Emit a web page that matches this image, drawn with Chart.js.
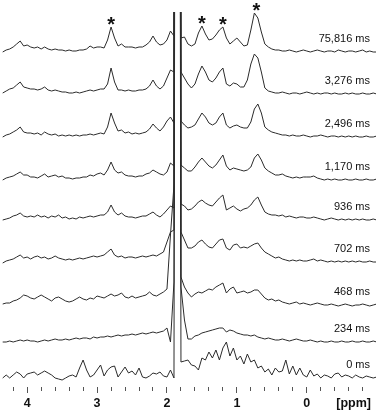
<!DOCTYPE html>
<html>
<head>
<meta charset="utf-8">
<script src="https://cdn.jsdelivr.net/npm/chart.js@4/dist/chart.umd.min.js"></script>
<style>
  html, body { margin: 0; padding: 0; background: #fff; }
  #wrap { width: 379px; height: 413px; position: relative; }
</style>
</head>
<body>
<div id="wrap"><canvas id="nmrChart"></canvas></div>
<script>
// chemical shift grid (ppm), shared by every spectrum
const ppm = [4.35, 4.3, 4.25, 4.2, 4.15, 4.1, 4.05, 4, 3.95, 3.9,
  3.85, 3.8, 3.75, 3.7, 3.65, 3.6, 3.55, 3.5, 3.45, 3.4,
  3.35, 3.3, 3.25, 3.2, 3.15, 3.1, 3.05, 3, 2.95, 2.9,
  2.85, 2.8, 2.75, 2.7, 2.65, 2.6, 2.55, 2.5, 2.45, 2.4,
  2.35, 2.3, 2.25, 2.2, 2.15, 2.1, 2.05, 2, 1.95, 1.9,
  1.85, 1.8, 1.75, 1.7, 1.65, 1.6, 1.55, 1.5, 1.45, 1.4,
  1.35, 1.3, 1.25, 1.2, 1.15, 1.1, 1.05, 1, 0.95, 0.9,
  0.85, 0.8, 0.75, 0.7, 0.65, 0.6, 0.55, 0.5, 0.45, 0.4,
  0.35, 0.3, 0.25, 0.2, 0.15, 0.1, 0.05, 0, -0.05, -0.1,
  -0.15, -0.2, -0.25, -0.3, -0.35, -0.4, -0.45, -0.5, -0.55, -0.6,
  -0.65, -0.7, -0.75, -0.8, -0.85, -0.9, -0.95, -1];

// intensities of each spectrum (arbitrary units)
const trace75816 = [0, 2, 3, 5, 8, 11, 6, 7, 5, 4,
  5, 3, 5, 3, 2, 3, 2, 2, 1, 2,
  1, 1, 2, 2, 3, 6, 4, 5, 5, 4,
  12, 25, 14, 6, 8, 5, 5, 5, 4, 5,
  5, 7, 10, 16, 10, 7, 8, 12, 21, 16,
  2000, 14, 15, 8, 6, 8, 19, 26, 18, 12,
  13, 17, 22, 25, 14, 8, 11, 14, 10, 6,
  7, 22, 39, 34, 20, 8, 5, 3, 2, 2,
  1, 1, 2, 1, 0, 1, 2, 1, 0, 1,
  2, 1, 0, 1, 1, 0, 2, 1, 0, 1,
  1, 0, 1, 2, 0, 1, 0, 0];
const trace3276 = [1, 3, 5, 6, 9, 12, 7, 6, 5, 5,
  4, 5, 7, 4, 3, 4, 3, 2, 2, 1,
  1, 2, 1, 2, 3, 4, 3, 4, 5, 5,
  10, 26, 12, 4, 4, 3, 4, 3, 3, 4,
  4, 5, 8, 14, 8, 5, 8, 16, 24, 22,
  2000, 22, 16, 10, 6, 10, 20, 28, 22, 14,
  12, 16, 22, 26, 10, 8, 11, 10, 7, 7,
  14, 30, 40, 36, 22, 6, 3, 2, 1, 1,
  2, 1, 0, 1, 1, 0, 1, 2, 1, 0,
  1, 0, 1, 1, 0, 1, 0, 0, 1, 0,
  1, 0, 0, 1, 0, 0, 1, 0];
const trace2496 = [0, 2, 3, 5, 7, 10, 5, 4, 4, 3,
  4, 2, 5, 3, 2, 3, 1, 2, 1, 2,
  1, 2, 1, 2, 2, 3, 2, 3, 4, 3,
  10, 24, 14, 6, 7, 4, 5, 3, 4, 3,
  4, 5, 8, 13, 9, 6, 10, 16, 20, 14,
  2000, 16, 12, 9, 10, 12, 18, 24, 20, 14,
  12, 14, 20, 24, 12, 9, 11, 12, 10, 9,
  9, 15, 28, 33, 24, 10, 7, 5, 4, 3,
  2, 2, 1, 2, 1, 1, 2, 1, 0, 1,
  1, 2, 1, 0, 1, 1, 0, 1, 0, 1,
  0, 1, 0, 0, 1, 0, 0, 1];
const trace1170 = [0, 2, 3, 4, 6, 8, 5, 5, 3, 3,
  2, 4, 6, 3, 4, 5, 3, 4, 2, 2,
  1, 2, 2, 3, 3, 5, 4, 6, 7, 5,
  10, 18, 10, 7, 8, 5, 4, 4, 3, 4,
  4, 6, 7, 10, 8, 6, 5, 8, 17, 14,
  2000, 15, 12, 9, 9, 13, 18, 22, 18, 14,
  12, 15, 20, 25, 14, 10, 12, 11, 10, 9,
  10, 13, 22, 26, 20, 12, 9, 7, 5, 5,
  6, 4, 3, 2, 3, 2, 3, 3, 3, 4,
  2, 1, 0, 1, 0, 1, 0, 0, 1, 0,
  0, 1, 0, 0, 1, 0, 0, 1];
const trace936 = [0, 1, 2, 4, 5, 7, 4, 3, 4, 3,
  5, 3, 4, 2, 4, 3, 5, 2, 3, 1,
  2, 1, 3, 2, 3, 4, 3, 4, 5, 5,
  8, 15, 8, 5, 7, 4, 3, 3, 2, 3,
  4, 4, 6, 8, 5, 3, 6, 10, 14, 12,
  2000, 16, 14, 10, 11, 14, 18, 20, 17, 15,
  14, 18, 22, 25, 10, 12, 14, 11, 9, 11,
  12, 15, 20, 23, 15, 8, 6, 5, 5, 4,
  5, 3, 4, 3, 2, 3, 3, 2, 2, 3,
  2, 1, 0, 1, 2, 1, 0, 1, 0, 1,
  0, 1, 0, 1, 0, 0, 1, 0];
const trace702 = [-1, 1, 2, 3, 5, 7, 4, 5, 3, 5,
  6, 4, 5, 3, 4, 6, 4, 3, 2, 3,
  2, 3, 4, 3, 4, 5, 6, 5, 6, 7,
  10, 13, 7, 5, 6, 4, 5, 5, 4, 5,
  6, 5, 6, 7, 6, 8, 10, 20, 30, 32,
  2000, 30, 22, 14, 14, 16, 20, 22, 18, 15,
  14, 18, 22, 23, 14, 12, 17, 18, 14, 15,
  14, 16, 18, 19, 14, 10, 8, 6, 4, 5,
  3, 2, 1, 2, 1, 2, 1, 1, 2, 3,
  1, 2, 1, 0, 1, 0, 1, 0, 1, 0,
  1, 0, 1, 0, 0, 1, 0, 0];
const trace468 = [1, 2, 2, 4, 5, 7, 10, 9, 7, 6,
  8, 10, 8, 6, 4, 7, 8, 6, 4, 3,
  4, 6, 8, 6, 5, 7, 6, 9, 8, 7,
  9, 11, 9, 10, 12, 8, 7, 9, 7, 8,
  9, 10, 13, 10, 9, 11, 13, 16, 70, 120,
  2000, 28, 18, 12, 8, 11, 13, 12, 14, 16,
  15, 18, 20, 22, 12, 16, 18, 12, 13, 14,
  12, 13, 15, 15, 11, 7, 5, 6, 4, 5,
  3, 2, 1, 2, 3, 1, 2, 1, 0, 1,
  2, 1, 0, 0, 1, 0, -1, 0, 1, 0,
  -1, 0, 0, 1, 0, -1, 0, 1];
const trace234 = [0, 0, 1, 0, 1, 2, 1, 2, 1, 1,
  0, 1, 2, 1, 2, 3, 2, 2, 3, 2,
  3, 4, 3, 4, 4, 3, 5, 4, 5, 5,
  6, 5, 6, 7, 6, 7, 7, 8, 7, 8,
  9, 8, 9, 10, 9, 10, 11, 14, 0, 60,
  2000, 55, 22, 3, 3, 6, 7, 9, 10, 11,
  12, 13, 14, 14, 10, 12, 11, 9, 8, 7,
  7, 6, 7, 5, 4, 3, 4, 3, 2, 2,
  3, 2, 1, 2, 3, 2, 1, 1, 2, 1,
  0, 1, 0, 0, 1, 0, 0, 1, 0, 0,
  1, 0, 0, 1, 0, 0, 1, 0];
const trace0 = [0, 3, 0, 3, 6, 4, 0, 4, 5, 6,
  3, 5, 7, 5, 3, 0, -1, -2, 0, 2,
  3, 1, 10, 18, 8, 1, 3, 8, 13, 2,
  8, 11, 12, 1, 6, 11, 5, 7, 3, 10,
  1, 0, 2, 5, 4, 6, 2, 1, 8, 0,
  2000, 16, 17, 18, 13, 12, 8, 20, 18, 26,
  20, 28, 18, 30, 36, 22, 30, 18, 22, 14,
  24, 16, 18, 10, 12, 6, 9, 3, 10, 6,
  7, 18, 4, 12, 3, 10, 3, 1, 8, 2,
  4, 0, 3, 2, 0, 4, 5, 1, 3, 2,
  0, 3, 1, 0, 2, 1, 0, 1];

const spectra = [trace75816, trace3276, trace2496, trace1170, trace936,
  trace702, trace468, trace234, trace0];
const delayLabels = ["75,816 ms", "3,276 ms", "2,496 ms", "1,170 ms", "936 ms",
  "702 ms", "468 ms", "234 ms", "0 ms"];
// vertical stacking offset of each spectrum
const stackOffsets = [335, 293, 250, 207, 167, 125, 82, 45, 9];
// peaks marked with * on the top spectrum
const starredPpm = [2.8, 1.5, 1.2, 0.72];

const FONT = "Arial, 'Liberation Sans', sans-serif";

// draws the delay labels, the asterisks and the axis unit
const annotations = {
  id: "annotations",
  afterDatasetsDraw(chart) {
    const { ctx, chartArea, scales: { x, y } } = chart;
    ctx.save();
    ctx.fillStyle = "#111";

    ctx.font = "11px " + FONT;
    ctx.textAlign = "right";
    ctx.textBaseline = "middle";
    delayLabels.forEach((lab, k) => {
      ctx.fillText(lab, chartArea.right - 6, y.getPixelForValue(stackOffsets[k] + 13));
    });

    ctx.font = "bold 20px " + FONT;
    ctx.textAlign = "center";
    ctx.textBaseline = "alphabetic";
    starredPpm.forEach(p => {
      let idx = 0;
      ppm.forEach((v, i) => { if (Math.abs(v - p) < Math.abs(ppm[idx] - p)) idx = i; });
      const top = Math.max(trace75816[idx - 1], trace75816[idx], trace75816[idx + 1]);
      const cy = y.getPixelForValue(stackOffsets[0] + top) - 7;
      ctx.fillText("*", x.getPixelForValue(p), cy + 11);
    });

    ctx.font = "bold 12.5px " + FONT;
    ctx.textBaseline = "middle";
    ctx.fillText("[ppm]", x.getPixelForValue(-0.67), chartArea.bottom + 17);
    ctx.restore();
  }
};

new Chart(document.getElementById("nmrChart"), {
  type: "line",
  data: {
    datasets: spectra.map((vals, k) => ({
      label: delayLabels[k],
      data: vals.map((v, i) => ({ x: ppm[i], y: stackOffsets[k] + v })),
      borderColor: "#2b2b2b",
      borderWidth: 1,
      pointRadius: 0,
      tension: 0,
      fill: false
    }))
  },
  options: {
    responsive: true,
    maintainAspectRatio: false,
    animation: false,
    layout: { padding: { left: 2, right: 3, top: 12, bottom: 0 } },
    plugins: { legend: { display: false }, tooltip: { enabled: false } },
    scales: {
      xMinor: {
        type: "linear", position: "bottom", reverse: true, min: -0.99, max: 4.36, weight: 0,
        border: { display: false },
        grid: { drawOnChartArea: false, tickLength: 4, color: "#555" },
        ticks: { stepSize: 0.2, autoSkip: false, includeBounds: false, callback: () => "" },
        afterFit: s => { s.height = 0; }
      },
      x: {
        type: "linear", position: "bottom", reverse: true, min: -0.99, max: 4.36, weight: 5,
        border: { display: false },
        grid: { drawOnChartArea: false, tickLength: 6, color: "#555" },
        ticks: {
          stepSize: 1, autoSkip: false, includeBounds: false, maxRotation: 0, padding: 3,
          color: "#111", font: { family: FONT, size: 12.5, weight: "bold" }
        },
        afterFit: s => { s.height = 26; }
      },
      y: { display: false, min: 0, max: 375 }
    }
  },
  plugins: [annotations]
});
</script>
</body>
</html>
